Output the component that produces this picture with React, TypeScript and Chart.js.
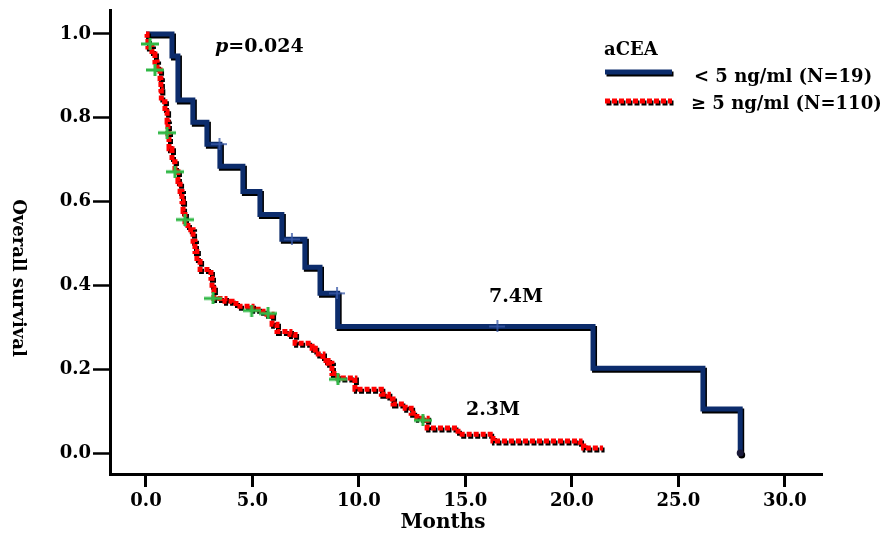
import React, { useEffect, useRef } from 'react';
import { Chart, registerables } from 'chart.js';

Chart.register(...registerables);

// ---- data ----
const xTickValues = [0, 5, 10, 15, 20, 25, 30];
const yTickValues = [0, 0.2, 0.4, 0.6, 0.8, 1.0];

// aCEA < 5 ng/ml (N=19)
const lowTimes = [0, 1.22, 1.5, 2.2, 2.86, 3.47, 4.55, 5.35, 6.38, 7.46, 8.17, 9.0, 20.99, 26.15, 27.9];
const lowSurv = [1.0, 0.947, 0.842, 0.789, 0.737, 0.684, 0.624, 0.569, 0.51, 0.443, 0.381, 0.302, 0.202, 0.105, 0.0];
const lowCensorTimes = [3.45, 6.85, 8.97, 16.5];
const lowCensorSurv = [0.737, 0.51, 0.381, 0.302];

// aCEA >= 5 ng/ml (N=110)
const highTimes = [0, 0.05, 0.09, 0.28, 0.42, 0.52, 0.66, 0.7, 0.72, 0.89, 0.99, 1.03, 1.08, 1.22, 1.36, 1.5, 1.6, 1.69, 1.74, 1.83, 1.97, 2.21, 2.3, 2.39, 2.54, 3.05, 3.1, 3.19, 3.71, 4.04, 4.41, 4.98, 5.45, 5.68, 5.92, 6.15, 6.76, 7.0, 7.8, 7.95, 8.31, 8.55, 8.73, 9.0, 9.81, 11.05, 11.38, 11.6, 12.17, 12.45, 12.72, 13.2, 14.65, 16.29, 20.38, 20.55, 21.46];
const highSurv = [1.0, 0.99, 0.969, 0.952, 0.933, 0.914, 0.893, 0.867, 0.838, 0.814, 0.79, 0.762, 0.726, 0.695, 0.671, 0.648, 0.624, 0.6, 0.576, 0.552, 0.533, 0.505, 0.481, 0.457, 0.438, 0.417, 0.393, 0.369, 0.362, 0.357, 0.35, 0.343, 0.338, 0.331, 0.307, 0.29, 0.283, 0.262, 0.25, 0.236, 0.221, 0.214, 0.19, 0.179, 0.152, 0.14, 0.129, 0.117, 0.107, 0.095, 0.083, 0.06, 0.045, 0.029, 0.017, 0.012, 0.012];
const highCensorTimes = [0.19, 0.42, 0.99, 1.36, 1.83, 3.15, 4.96, 5.73, 9.01, 13.0];
const highCensorSurv = [0.976, 0.914, 0.764, 0.671, 0.557, 0.369, 0.34, 0.333, 0.176, 0.078];

const BLUE = '#0c2c6c';
const RED = '#ff0000';
const GREEN = '#30b846';
const FONT = '"DejaVu Serif", serif';

const toPts = (xs: number[], ys: number[]) => xs.map((x, i) => ({ x, y: ys[i] }));

function makeCross(w: number, h: number, lw: number, color: string) {
  const c = document.createElement('canvas');
  c.width = w;
  c.height = h;
  const g = c.getContext('2d')!;
  g.strokeStyle = color;
  g.lineWidth = lw;
  g.beginPath();
  g.moveTo(0, h / 2);
  g.lineTo(w, h / 2);
  g.moveTo(w / 2, 0);
  g.lineTo(w / 2, h);
  g.stroke();
  return c;
}

const shadowPlugin = {
  id: 'shadowPlugin',
  beforeDatasetDraw(chart: any, args: any) {
    const ds = chart.data.datasets[args.index];
    if (ds.shadow) {
      const ctx = chart.ctx;
      ctx.save();
      ctx.shadowColor = '#000';
      ctx.shadowOffsetX = 1.5;
      ctx.shadowOffsetY = 2;
      ctx.shadowBlur = 0;
    }
  },
  afterDatasetDraw(chart: any, args: any) {
    const ds = chart.data.datasets[args.index];
    if (ds.shadow) chart.ctx.restore();
  },
};

const textPlugin = {
  id: 'textPlugin',
  afterDraw(chart: any) {
    const ctx = chart.ctx;
    ctx.save();
    ctx.fillStyle = '#000';
    ctx.textBaseline = 'alphabetic';
    ctx.textAlign = 'left';

    // p value
    ctx.font = `italic bold 19px ${FONT}`;
    ctx.fillText('p', 215, 52);
    const pw = ctx.measureText('p').width;
    ctx.font = `bold 19px ${FONT}`;
    ctx.fillText('=0.024', 215 + pw, 52);

    // medians
    ctx.font = `bold 19px ${FONT}`;
    ctx.fillText('7.4M', 489, 302);
    ctx.fillText('2.3M', 466, 415);

    // legend
    ctx.font = `bold 18px ${FONT}`;
    ctx.fillText('aCEA', 604, 55);
    ctx.fillText('< 5 ng/ml (N=19)', 694, 82);
    ctx.fillText('\u2265 5 ng/ml (N=110)', 691, 109);

    ctx.save();
    ctx.shadowColor = '#000';
    ctx.shadowOffsetX = 1.5;
    ctx.shadowOffsetY = 2;
    ctx.lineWidth = 5;
    ctx.strokeStyle = BLUE;
    ctx.beginPath();
    ctx.moveTo(605, 72);
    ctx.lineTo(672, 72);
    ctx.stroke();
    ctx.strokeStyle = RED;
    ctx.setLineDash([5, 2]);
    ctx.beginPath();
    ctx.moveTo(605, 101);
    ctx.lineTo(672, 101);
    ctx.stroke();
    ctx.restore();

    // axis titles
    ctx.font = `bold 20px ${FONT}`;
    ctx.textAlign = 'center';
    ctx.textBaseline = 'middle';
    ctx.fillText('Months', 443, 523);

    ctx.font = `bold 18px ${FONT}`;
    ctx.translate(18, 278);
    ctx.rotate(Math.PI / 2);
    ctx.fillText('Overall survival', 0, 0);
    ctx.restore();
  },
};

export default function App() {
  const ref = useRef<HTMLCanvasElement | null>(null);

  useEffect(() => {
    document.body.style.margin = '0';
    if (!ref.current) return;
    const greenCross = makeCross(18, 12, 3, GREEN);
    const blueCross = makeCross(16, 12, 1.5, '#3a5aa8');
    const chart = new Chart(ref.current, {
      type: 'line',
      data: {
        datasets: [
          {
            label: '< 5 ng/ml (N=19)',
            data: toPts(lowTimes, lowSurv),
            order: 2,
            stepped: true,
            borderColor: BLUE,
            borderWidth: 5,
            pointRadius: lowTimes.map((_, i) => (i === lowTimes.length - 1 ? 3.5 : 0)),
            pointBorderWidth: 0,
            pointBackgroundColor: '#1a1a3a',
            pointBorderColor: '#1a1a3a',
            fill: false,
            shadow: true,
          } as any,
          {
            label: '\u2265 5 ng/ml (N=110)',
            data: toPts(highTimes, highSurv),
            order: 1,
            stepped: true,
            borderColor: RED,
            borderWidth: 5,
            borderDash: [5, 2],
            borderCapStyle: 'butt',
            pointRadius: 0,
            fill: false,
            shadow: true,
          } as any,
          {
            label: 'censored low',
            data: toPts(lowCensorTimes, lowCensorSurv),
            order: 0,
            showLine: false,
            pointStyle: blueCross,
            pointRadius: 8,
          } as any,
          {
            label: 'censored high',
            data: toPts(highCensorTimes, highCensorSurv),
            order: 0,
            showLine: false,
            pointStyle: greenCross,
            pointRadius: 9,
          } as any,
        ],
      },
      options: {
        animation: false,
        responsive: false,
        maintainAspectRatio: false,
        layout: { padding: { left: 0, top: 8, right: 69, bottom: 0 } },
        plugins: { legend: { display: false }, tooltip: { enabled: false } },
        scales: {
          x: {
            type: 'linear',
            min: -1.69,
            max: 31.74,
            afterBuildTicks: (s: any) => {
              s.ticks = xTickValues.map((v) => ({ value: v }));
            },
            afterFit: (s: any) => {
              s.height = 67;
              s.paddingLeft = 0;
              s.paddingRight = 0;
            },
            grid: { display: true, drawOnChartArea: false, drawTicks: true, tickLength: 13, tickWidth: 3, tickColor: '#000' },
            border: { display: true, color: '#000', width: 3 },
            ticks: {
              color: '#000',
              font: { family: FONT, weight: 'bold', size: 18 },
              padding: 4,
              maxRotation: 0,
              autoSkip: false,
              callback: (v: any) => Number(v).toFixed(1),
            },
          },
          y: {
            type: 'linear',
            min: -0.05,
            max: 1.057,
            afterBuildTicks: (s: any) => {
              s.ticks = yTickValues.map((v) => ({ value: v }));
            },
            afterFit: (s: any) => {
              s.width = 110;
              s.paddingTop = 0;
              s.paddingBottom = 0;
            },
            grid: { display: true, drawOnChartArea: false, drawTicks: true, tickLength: 17, tickWidth: 2.5, tickColor: '#000' },
            border: { display: true, color: '#000', width: 3 },
            ticks: {
              color: '#000',
              font: { family: FONT, weight: 'bold', size: 18 },
              padding: 2,
              autoSkip: false,
              callback: (v: any) => Number(v).toFixed(1),
            },
          },
        },
      } as any,
      plugins: [shadowPlugin, textPlugin],
    });
    return () => chart.destroy();
  }, []);

  return <canvas ref={ref} width={891} height={541} style={{ display: 'block', width: 891, height: 541 }} />;
}
